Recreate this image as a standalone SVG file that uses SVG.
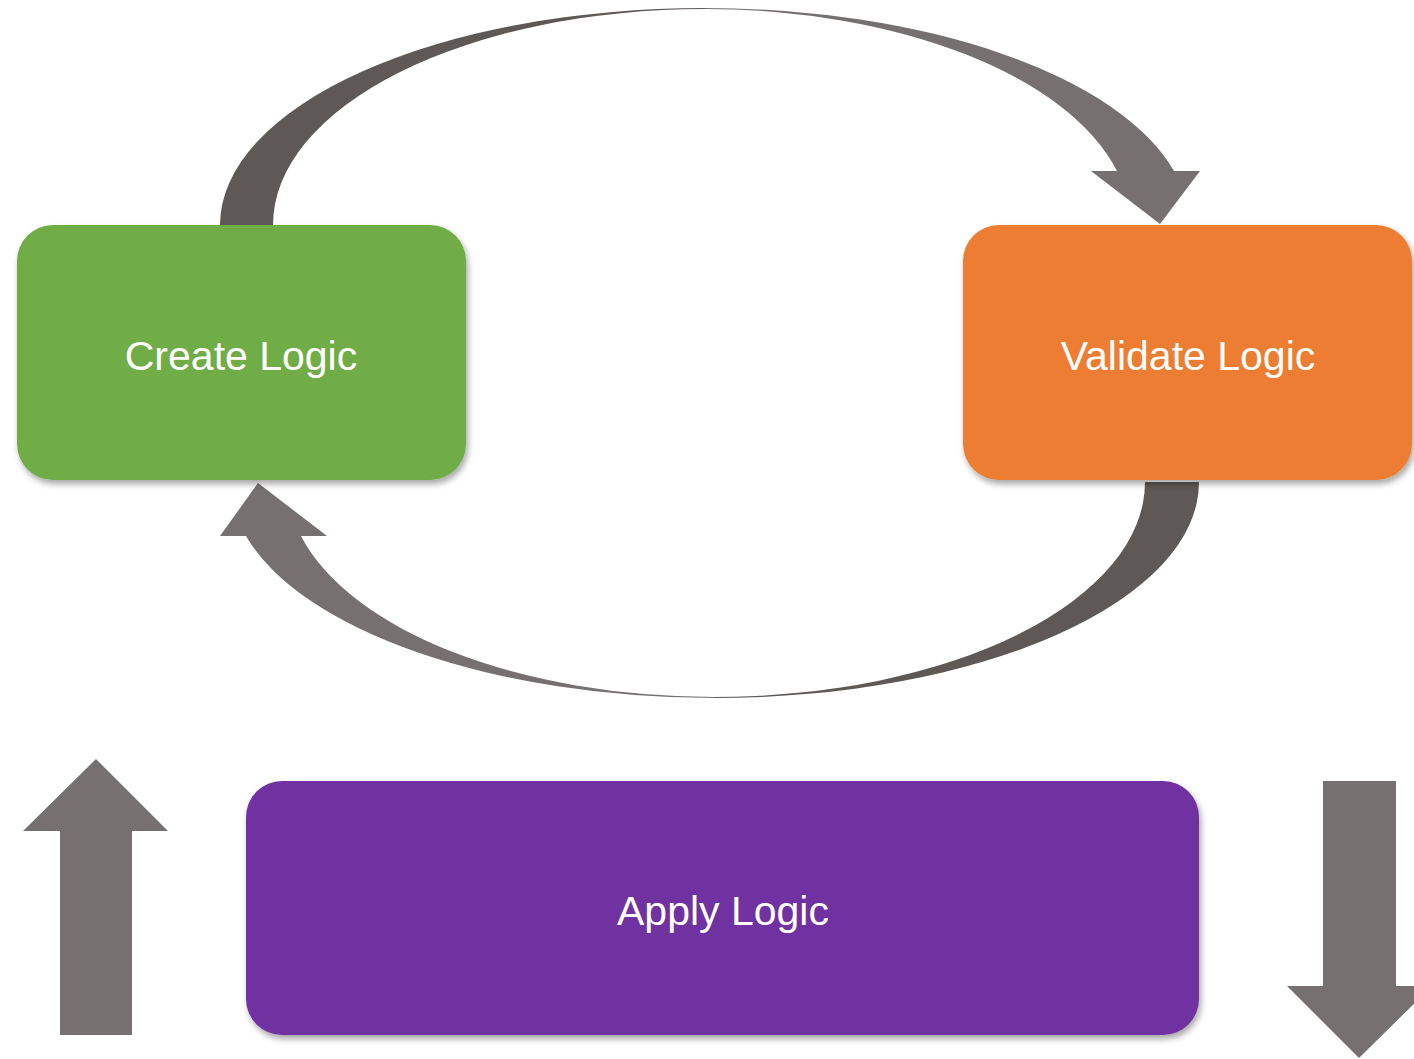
<svg xmlns="http://www.w3.org/2000/svg" width="1414" height="1059" viewBox="0 0 1414 1059">
  <defs>
    <filter id="sh" x="-10%" y="-10%" width="120%" height="130%">
      <feDropShadow dx="2" dy="4" stdDeviation="3" flood-color="#000" flood-opacity="0.35"/>
    </filter>
  </defs>
  <style>
    .lbl { font-family: "Liberation Sans", Arial, sans-serif; font-size: 41px; fill: #ffffff; text-anchor: middle; }
    .dark { fill: #5E5957; }
    .light { fill: #767170; }
  </style>
  <rect width="1414" height="1059" fill="#ffffff"/>

  <g id="connectors">
    <!-- top curved arrow: Create -> Validate -->
    <path class="dark" d="M220,225 A485,217 0 0 1 705,8 L705,9 A432,216 0 0 0 273,225 Z"/>
    <path class="light" d="M705,8 A485,217 0 0 1 1174,171 L1200,171 L1160,224 L1091,171 L1117,171 A426,216 0 0 0 705,9 Z"/>
    <!-- bottom curved arrow: Validate -> Create -->
    <path class="dark" d="M1199,482 A485,216 0 0 1 714,698 L714,697 A431,215 0 0 0 1145,482 Z"/>
    <path class="light" d="M714,698 A485,216 0 0 1 246,536 L220,536 L258,483 L327,536 L301,536 A427,215 0 0 0 714,697 Z"/>
    <!-- up arrow -->
    <path class="light" d="M96,759 L168,831 L132,831 L132,1035 L60,1035 L60,831 L23,831 Z"/>
    <!-- down arrow -->
    <path class="light" d="M1323,781 L1396,781 L1396,986 L1432,986 L1359,1058 L1287,986 L1323,986 Z"/>
  </g>

  <g id="create-logic">
    <rect x="17" y="225" width="449" height="255" rx="36" ry="36" fill="#70AD47" filter="url(#sh)"/>
    <text class="lbl" x="241" y="370">Create Logic</text>
  </g>

  <g id="validate-logic">
    <rect x="963" y="225" width="449" height="255" rx="36" ry="36" fill="#ED7D31" filter="url(#sh)"/>
    <text class="lbl" x="1188" y="370">Validate Logic</text>
  </g>

  <g id="apply-logic">
    <rect x="246" y="781" width="953" height="254" rx="36" ry="36" fill="#7030A0" filter="url(#sh)"/>
    <text class="lbl" x="723" y="925">Apply Logic</text>
  </g>
</svg>
